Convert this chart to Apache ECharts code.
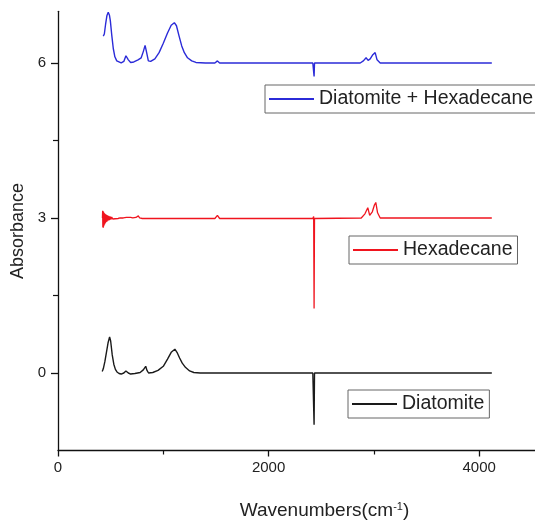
<!DOCTYPE html>
<html><head><meta charset="utf-8">
<script src="https://cdn.jsdelivr.net/npm/echarts@6/dist/echarts.min.js"></script>
<style>html,body{margin:0;padding:0;background:#fff}#c{width:535px;height:523px}</style>
</head><body><div id="c"></div>
<script>
const xTicks = [0, 2000, 4000];
const xMinor = [1000, 3000];
const yTicks = [0, 3, 6];
const yMinor = [1.5, 4.5];

const nameBlue = 'Diatomite + Hexadecane';
const nameRed = 'Hexadecane';
const nameBlack = 'Diatomite';

const blueX = [430,440,452,465,477,488,497,510,525,540,558,575,600,625,645,655,668,690,720,760,790,810,827,840,858,880,920,960,1000,1040,1075,1105,1125,1150,1175,1200,1230,1270,1310,1400,1490,1514,1535,2225,2235,2245,2420,2428,2432,2436,2870,2900,2926,2945,2965,2990,3012,3030,3060,4120];
const blueY = [6.52,6.56,6.75,6.92,6.98,6.93,6.82,6.55,6.28,6.12,6.04,6.01,6.00,6.03,6.14,6.15,6.06,6.01,6.02,6.06,6.10,6.22,6.34,6.22,6.04,6.03,6.08,6.20,6.38,6.58,6.73,6.78,6.72,6.52,6.33,6.20,6.10,6.04,6.01,6.00,6.00,6.04,6.00,6.00,5.97,6.00,6.00,6.02,5.74,6.00,6.00,6.04,6.10,6.05,6.08,6.16,6.20,6.06,6.00,6.00];

const redX = [422,424,426,428,430,432,434,436,438,440,443,446,449,452,456,460,464,469,474,480,487,494,502,510,520,530,542,555,570,590,620,650,690,700,710,740,763,775,800,1490,1514,1535,2420,2428,2432,2436,2880,2915,2942,2960,2985,3005,3018,3035,3060,4120];
const redY = [3.00,3.14,2.82,3.13,2.81,3.12,2.84,3.10,2.86,3.09,2.88,3.08,2.90,3.07,2.92,3.06,2.93,3.05,2.95,3.04,2.96,3.03,2.97,3.02,2.98,3.015,2.985,3.01,2.99,3.00,3.00,3.01,3.01,3.03,3.00,3.01,3.04,3.00,2.99,2.99,3.05,2.99,2.99,3.03,1.25,2.99,3.00,3.08,3.20,3.05,3.12,3.25,3.30,3.10,3.00,3.00];

const blackX = [420,430,445,460,475,490,500,515,530,545,560,580,600,625,645,655,668,690,730,780,810,833,845,860,900,950,1000,1040,1075,1110,1130,1155,1180,1210,1250,1290,1350,2420,2428,2432,2436,4120];
const blackY = [0.03,0.08,0.22,0.40,0.58,0.70,0.62,0.35,0.17,0.07,0.02,-0.01,-0.02,0.00,0.04,0.05,0.00,-0.02,-0.01,0.01,0.06,0.13,0.05,0.00,0.01,0.05,0.13,0.27,0.40,0.46,0.40,0.29,0.19,0.11,0.04,0.01,0.00,0.00,0.01,-1.00,0.00,0.00];

const pairs = (xs, ys) => xs.map((x, i) => [x, ys[i]]);
const FONT = 'Liberation Sans, Arial, sans-serif';
const TXT = '#222';

function legend(name, left, top) {
  return {
    data: [name], left: left, top: top, orient: 'horizontal',
    icon: 'rect', itemWidth: 45, itemHeight: 2,
    borderColor: '#666', borderWidth: 1, borderRadius: 0,
    padding: [3, 5, 3, 4], selectedMode: false,
    textStyle: { fontFamily: FONT, fontSize: 19.5, color: TXT, lineHeight: 22 }
  };
}

const chart = echarts.init(document.getElementById('c'));
const xRange = { min: 0, max: 4530 };
const yRange = { min: -1.5, max: 7 };
chart.setOption({
  animation: false,
  backgroundColor: '#fff',
  grid: { left: 58, right: 0, top: 11.3, bottom: 72.5, containLabel: false, outerBoundsMode: 'none' },
  legend: [legend(nameBlue, 265, 85), legend(nameRed, 349, 236), legend(nameBlack, 348, 390)],
  xAxis: [{
    type: 'value', ...xRange, position: 'bottom',
    name: 'Wavenumbers(cm{sup|-1})', nameLocation: 'middle', nameGap: 51,
    nameTextStyle: { fontFamily: FONT, fontSize: 19, color: TXT, padding: [0, 0, 0, 56],
      rich: { sup: { fontFamily: FONT, fontSize: 11, color: TXT, verticalAlign: 'top', padding: [0, 0, 6, 0] } } },
    axisLine: { show: true, onZero: false, lineStyle: { color: '#111', width: 1.3 } },
    axisTick: { show: true, inside: false, length: 6, customValues: xTicks, lineStyle: { color: '#111', width: 1.3 } },
    axisLabel: { show: true, margin: 10, customValues: xTicks, formatter: v => String(v), fontFamily: FONT, fontSize: 15, color: TXT },
    splitLine: { show: false }
  }, {
    type: 'value', ...xRange, position: 'bottom',
    axisLine: { show: false, onZero: false }, axisLabel: { show: false }, splitLine: { show: false },
    axisTick: { show: true, inside: false, length: 4, customValues: xMinor, lineStyle: { color: '#111', width: 1.2 } }
  }],
  yAxis: [{
    type: 'value', ...yRange, position: 'left',
    name: 'Absorbance', nameLocation: 'middle', nameGap: 26, nameRotate: 90,
    nameTextStyle: { fontFamily: FONT, fontSize: 18, color: TXT },
    axisLine: { show: true, onZero: false, lineStyle: { color: '#111', width: 1.3 } },
    axisTick: { show: true, inside: false, length: 7, customValues: yTicks, lineStyle: { color: '#111', width: 1.3 } },
    axisLabel: { show: true, margin: 12, customValues: yTicks, formatter: v => String(v), fontFamily: FONT, fontSize: 15, color: TXT },
    splitLine: { show: false }
  }, {
    type: 'value', ...yRange, position: 'left',
    axisLine: { show: false, onZero: false }, axisLabel: { show: false }, splitLine: { show: false },
    axisTick: { show: true, inside: false, length: 5, customValues: yMinor, lineStyle: { color: '#111', width: 1.2 } }
  }],
  series: [
    { name: nameBlue, type: 'line', data: pairs(blueX, blueY), showSymbol: false, symbol: 'none',
      lineStyle: { color: '#2b2bd8', width: 1.4 }, itemStyle: { color: '#2b2bd8' } },
    { name: nameRed, type: 'line', data: pairs(redX, redY), showSymbol: false, symbol: 'none',
      lineStyle: { color: '#f0141e', width: 1.3 }, itemStyle: { color: '#f0141e' } },
    { name: nameBlack, type: 'line', data: pairs(blackX, blackY), showSymbol: false, symbol: 'none',
      lineStyle: { color: '#1a1a1a', width: 1.4 }, itemStyle: { color: '#1a1a1a' } }
  ]
});
</script></body></html>
